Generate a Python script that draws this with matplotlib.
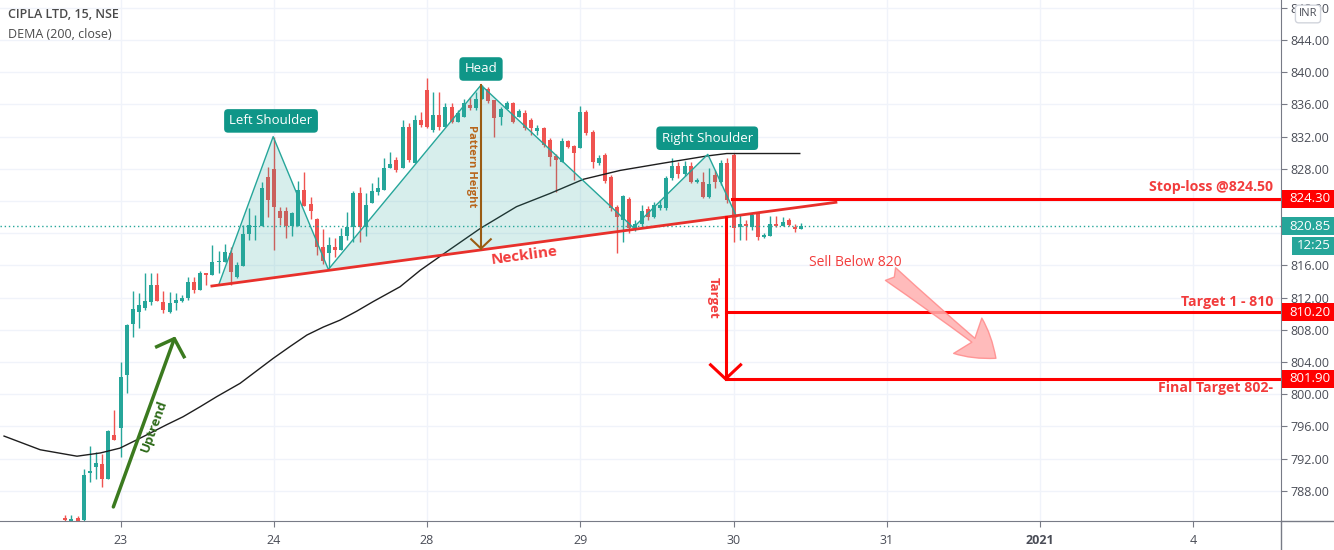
import numpy as np
import matplotlib
matplotlib.use("Agg")
import matplotlib.pyplot as plt
import matplotlib.patches as patches
import matplotlib.transforms as mtransforms

plt.rcParams["font.family"] = ["Open Sans", "DejaVu Sans"]

# 15 minute bars, index 0 = first bar of 23 Dec
bar_idx = np.arange(-9, 112)
opens = [784.6, 784.3, 784.6, 784.35, 790.2, 790.9, 791.3, 789.5, 794.9,
         795.8, 802.4, 808.7, 810.25, 810.75, 811.5, 813.55, 811.45, 810.25, 811.3,
         811.6, 811.95, 814.0, 813.0, 815.0, 814.8, 816.4, 816.45, 817.55, 814.55,
         815.9, 819.85, 820.8, 820.9, 826.95, 827.95, 822.7, 822.75, 820.9, 820.9,
         825.4, 823.6, 821.75, 818.3, 817.5, 818.25, 817.9, 819.6, 820.8, 825.05,
         820.8, 823.7, 825.15, 825.35, 828.05, 829.1, 828.05, 833.25, 828.7, 834.05,
         837.8, 832.8, 834.7, 833.25, 835.7, 833.85, 834.45, 835.9, 835.6, 836.65,
         837.9, 836.55, 834.4, 835.4, 836.15, 834.45, 834.95, 834.05, 832.7, 833.05,
         831.6, 829.6, 828.9, 831.45, 830.85, 830.55, 835.1, 832.6, 828.7, 829.7,
         827.0, 823.3, 821.65, 824.25, 820.6, 821.2, 822.95, 822.05, 823.1, 823.1,
         826.8, 828.35, 827.35, 828.35, 826.4, 826.4, 824.55, 827.25, 826.4, 828.75,
         829.7, 820.75, 821.15, 820.8, 822.45, 819.5, 819.65, 821.15, 820.9, 821.65,
         820.75, 820.5]
highs = [785.0, 785.0, 784.9, 790.7, 793.6, 792.8, 792.55, 795.55, 798.0,
         804.0, 808.7, 812.8, 812.6, 815.05, 815.05, 815.05, 812.85, 812.75, 812.6,
         812.3, 814.6, 814.6, 815.3, 815.1, 818.5, 817.8, 818.6, 818.3, 816.45,
         821.0, 823.1, 822.25, 826.4, 828.25, 832.0, 823.3, 823.3, 822.65, 826.5,
         827.65, 824.55, 821.95, 820.5, 819.55, 819.35, 820.6, 822.65, 825.25, 825.8,
         825.0, 826.2, 827.0, 829.35, 830.1, 829.5, 834.05, 833.65, 834.7, 835.1,
         839.25, 837.6, 837.6, 836.15, 836.15, 835.3, 836.65, 836.95, 837.6, 838.4,
         838.2, 836.55, 835.7, 836.45, 836.35, 835.4, 835.3, 834.25, 833.45, 833.25,
         831.85, 829.85, 831.8, 831.6, 830.95, 835.8, 835.3, 832.8, 829.7, 830.0,
         827.25, 823.5, 824.75, 824.5, 821.65, 823.5, 823.4, 823.9, 824.1, 827.1,
         829.35, 828.9, 828.95, 828.85, 826.85, 827.6, 828.1, 827.85, 829.1, 829.35,
         829.95, 822.25, 821.65, 822.5, 822.6, 820.05, 822.15, 822.15, 822.0, 821.9,
         821.15, 821.25]
lows = [784.3, 784.25, 784.2, 784.3, 789.1, 789.5, 788.5, 789.5, 794.3,
        792.2, 800.2, 807.15, 808.25, 810.45, 811.1, 811.6, 810.05, 810.1, 810.45,
        811.4, 811.7, 812.55, 813.0, 813.55, 814.8, 815.1, 816.45, 813.55, 814.4,
        815.9, 819.15, 819.15, 820.9, 822.05, 817.9, 821.0, 819.35, 819.65, 820.9,
        823.4, 821.75, 817.3, 816.15, 815.7, 817.1, 817.9, 819.15, 818.95, 818.95,
        819.65, 823.7, 824.75, 825.35, 828.05, 827.65, 828.05, 828.9, 828.7, 833.25,
        833.05, 832.6, 832.8, 833.25, 833.65, 833.85, 834.45, 835.3, 835.3, 836.65,
        836.15, 832.0, 833.45, 835.4, 833.65, 834.45, 832.8, 832.2, 832.2, 830.75,
        828.35, 825.15, 828.9, 830.55, 826.6, 830.55, 832.2, 828.05, 828.45, 826.25,
        822.7, 817.5, 818.95, 820.0, 820.25, 820.95, 821.65, 821.9, 822.9, 822.9,
        826.6, 826.85, 827.1, 826.25, 826.25, 824.4, 824.4, 825.6, 826.0, 823.75,
        818.95, 819.15, 819.15, 820.4, 819.15, 819.35, 819.65, 820.75, 820.9, 820.9,
        820.15, 820.5]
closes = [784.35, 784.5, 784.3, 789.95, 790.5, 791.45, 789.5, 795.4, 794.3,
          802.2, 808.6, 810.55, 811.1, 811.6, 813.55, 811.6, 810.45, 811.3, 811.7,
          812.0, 814.0, 813.0, 815.0, 814.8, 816.45, 816.55, 817.7, 815.2, 816.05,
          819.85, 821.0, 820.9, 825.6, 824.1, 823.2, 821.85, 820.9, 822.45, 825.4,
          823.4, 822.7, 818.25, 816.55, 818.55, 817.95, 819.6, 820.8, 824.95, 820.8,
          823.5, 825.25, 825.65, 828.15, 828.6, 827.85, 833.25, 829.1, 834.05, 833.45,
          833.25, 834.7, 833.25, 835.7, 833.85, 834.9, 836.15, 835.6, 836.65, 838.0,
          836.45, 834.35, 835.4, 836.2, 833.85, 835.2, 833.05, 833.05, 833.05, 830.95,
          829.45, 829.1, 831.45, 830.75, 830.0, 835.1, 832.4, 828.9, 829.35, 826.5,
          823.1, 822.05, 824.6, 820.6, 821.2, 822.75, 822.05, 823.5, 823.5, 826.8,
          828.35, 827.35, 828.35, 826.4, 826.6, 824.55, 826.1, 826.4, 828.7, 824.1,
          820.6, 821.15, 820.9, 822.25, 819.55, 819.8, 821.15, 820.9, 821.45, 821.0,
          820.55, 820.85]

# DEMA (200, close)
dema_idx = [-19, -13.1, -7.1, -3.3, -0.1, 2.3, 4.8, 7.5, 10.2, 13.0, 15.7, 19.5,
            22.2, 24.9, 27.7, 30.4, 33.1, 35.8, 38.5, 41.2, 45.6, 48.9, 53.2,
            58.7, 64.6, 70.1, 75.5, 81.5, 88.5, 95.7, 98.9, 110.8]
dema_vals = [794.8, 793.1, 792.3, 792.7, 793.3, 794.2, 795.15, 796.2, 797.2,
             798.45, 799.7, 801.35, 802.9, 804.45, 805.95, 807.35, 808.35, 809.2,
             810.3, 811.5, 813.35, 815.4, 817.7, 820.6, 823.3, 824.95, 826.7, 827.8,
             828.7, 829.6, 829.9, 829.9]

day_ticks = [0, 25, 50, 75, 100, 125, 150, 175]
day_labels = ["23", "24", "28", "29", "30", "31", "2021", "4"]
price_ticks = np.arange(788, 849, 4)

# head & shoulders drawing
pattern_idx = [16.0, 24.9, 33.9, 58.8, 83.65, 95.8, 100.5]
pattern_px = [813.55, 832.0, 815.5, 838.4, 820.7, 829.8, 822.05]
neck_idx = [14.9, 116.7]
neck_px = [813.44, 823.84]

last_price = 820.85
stop_loss = 824.30
target_1 = 810.20
final_target = 801.90

UP = "#26a69a"
DOWN = "#ef5350"
RED = "#ff0000"
TXT_RED = "#f23c3c"
LABEL_BG = "#0f9688"

fig = plt.figure(figsize=(13.34, 5.5), dpi=100)
ax = fig.add_axes([0, 29 / 550, 1281 / 1334, 521 / 550])

# candles
o = np.array(opens)
c = np.array(closes)
colors = np.where(c >= o, UP, DOWN)
ax.vlines(bar_idx, lows, highs, colors=colors, lw=1, zorder=2)
body = np.maximum(np.abs(c - o), 0.08)
ax.bar(bar_idx, body, bottom=np.minimum(o, c), width=0.65, color=colors, zorder=2)

ax.plot(dema_idx, dema_vals, color="#1e1e1e", lw=1, zorder=3)
ax.axhline(last_price, color=UP, lw=1, ls=(0, (1, 2)), zorder=3)

# pattern fill + outline
poly = patches.Polygon(list(zip(pattern_idx, pattern_px)), closed=True,
                       fc=UP, alpha=0.18, ec="none", zorder=4)
ax.add_patch(poly)
ax.plot(pattern_idx, pattern_px, color=UP, lw=1, zorder=5)
ax.plot(neck_idx, neck_px, color="#e8302b", lw=2, zorder=5)

for txt, xi, yp in [("Left Shoulder", 24.55, 833.95), ("Head", 58.8, 840.4),
                    ("Right Shoulder", 95.7, 831.8)]:
    ax.text(xi, yp, txt, ha="center", va="center", color="white", fontsize=9.5,
            zorder=8, bbox=dict(boxstyle="round,pad=0.4,rounding_size=0.3",
                                fc=LABEL_BG, ec="none"))

# pattern height arrow
BROWN = "#9a5b13"
ax.plot([58.8, 58.8], [838.4, 818.1], color=BROWN, lw=1.5, zorder=6)
ax.plot([57.2, 58.8, 60.4], [819.25, 818.1, 819.25], color=BROWN, lw=1.5, zorder=6)
ax.text(57.3, 828.35, "Pattern Height", rotation=-90, ha="center", va="center",
        color="#b8651b", fontsize=8, fontweight="bold", zorder=7)

ax.text(65.8, 817.2, "Neckline", rotation=7.6, ha="center", va="center",
        color=TXT_RED, fontsize=11, fontweight="bold", zorder=7)

# uptrend arrow
GREEN = "#3b7a1f"
ax.plot([-1.17, 8.78], [786.0, 806.9], color=GREEN, lw=2.5, zorder=6,
        solid_capstyle="round")
ax.plot([5.9, 8.78, 10.36], [805.9, 806.9, 804.66], color=GREEN, lw=2.5, zorder=6)
ax.text(5.47, 796.05, "Uptrend", rotation=70, ha="center", va="center",
        color="#2e6b1a", fontsize=9.5, fontweight="bold", zorder=7)

# targets
x_end = 189.3
ax.plot([99.75, x_end], [stop_loss, stop_loss], color=RED, lw=2.2, zorder=6)
ax.plot([98.7, x_end], [target_1, target_1], color=RED, lw=2.2, zorder=6)
ax.plot([98.7, x_end], [final_target, final_target], color=RED, lw=2.2, zorder=6)
ax.plot([98.7, 98.7], [822.05, final_target], color=RED, lw=2.2, zorder=6)
ax.plot([96.25, 98.7, 101.15], [803.65, final_target, 803.65], color=RED, lw=2.2,
        zorder=6)
ax.text(96.7, 811.95, "Target", rotation=-90, ha="center", va="center",
        color=TXT_RED, fontsize=9.5, fontweight="bold", zorder=7)

ax.text(188.0, 825.7, "Stop-loss @824.50", ha="right", va="center",
        color=TXT_RED, fontsize=10.2, fontweight="bold", zorder=7)
ax.text(188.0, 811.5, "Target 1 - 810", ha="right", va="center",
        color=TXT_RED, fontsize=10.2, fontweight="bold", zorder=7)
ax.text(188.0, 800.73, "Final Target 802-", ha="right", va="center",
        color=TXT_RED, fontsize=10.2, fontweight="bold", zorder=7)
ax.text(119.8, 816.4, "Sell Below 820", ha="center", va="center",
        color=TXT_RED, fontsize=10, zorder=7)
ax.annotate("", xy=(142.8, 804.46), xytext=(125.6, 814.93),
            arrowprops=dict(arrowstyle="fancy,head_length=1.0,head_width=1.25,tail_width=0.45",
                            fc="#ffb0b0", ec="#ff8a8a", alpha=0.85,
                            mutation_scale=26, shrinkA=0, shrinkB=0),
            zorder=7)

# axes styling
ax.set_xlim(-19.66, x_end)
ax.set_ylim(784.25, 848.97)
ax.set_xticks(day_ticks)
ax.set_xticklabels(day_labels)
ax.set_yticks(price_ticks)
# 820 and 824 sit under the price tags
ax.set_yticklabels(["" if v in (820, 824) else f"{v:.2f}" for v in price_ticks])
ax.yaxis.tick_right()
ax.grid(True, color="#f0f3fa", lw=1, zorder=0)
ax.set_axisbelow(True)
for side in ["top", "left"]:
    ax.spines[side].set_visible(False)
for side in ["bottom", "right"]:
    ax.spines[side].set_color("#787b86")
ax.tick_params(axis="y", length=4, color="#787b86", labelcolor="#4a4d57",
               labelsize=9, pad=3)
ax.tick_params(axis="x", length=4, color="#787b86", labelcolor="#4a4d57",
               labelsize=9, pad=5)
for lbl in ax.get_xticklabels():
    if lbl.get_text() == "2021":
        lbl.set_fontweight("bold")

fig.add_artist(plt.Line2D([1281 / 1334, 1], [29 / 550, 29 / 550],
                          transform=fig.transFigure, color="#787b86", lw=1))
fig.add_artist(plt.Line2D([1281 / 1334, 1281 / 1334], [0, 29 / 550],
                          transform=fig.transFigure, color="#787b86", lw=1))

# price tags on the scale
blend = mtransforms.blended_transform_factory(ax.transAxes, ax.transData)
for price, col in [(stop_loss, RED), (last_price, UP), (target_1, RED),
                   (final_target, RED)]:
    ax.add_patch(patches.Rectangle((1.0008, price - 1.12), 0.042, 2.24, transform=blend,
                                   fc=col, ec="none", clip_on=False, zorder=10))
    ax.text(1.0068, price, f"{price:.2f}", transform=blend, ha="left", va="center",
            color="white", fontsize=9.5, zorder=11, clip_on=False)
ax.add_patch(patches.Rectangle((1.0086, 818.45 - 1.12), 0.034, 2.24, transform=blend,
                               fc=UP, ec="none", clip_on=False, zorder=10))
ax.text(1.0125, 818.45, "12:25", transform=blend, ha="left", va="center",
        color="white", fontsize=9.5, zorder=11, clip_on=False)

fig.text(1308 / 1334, 1 - 14 / 550, "INR", ha="center", va="center",
         color="#4a4d57", fontsize=8,
         bbox=dict(boxstyle="round,pad=0.3", fc="white", ec="#d1d4dc"))

fig.text(8 / 1334, 1 - 14 / 550, "CIPLA LTD, 15, NSE", ha="left", va="center",
         color="#4a4a4a", fontsize=9, fontweight="semibold")
fig.text(8 / 1334, 1 - 34 / 550, "DEMA (200, close)", ha="left", va="center",
         color="#4a4a4a", fontsize=9)

fig.savefig("out.png", dpi=100)
